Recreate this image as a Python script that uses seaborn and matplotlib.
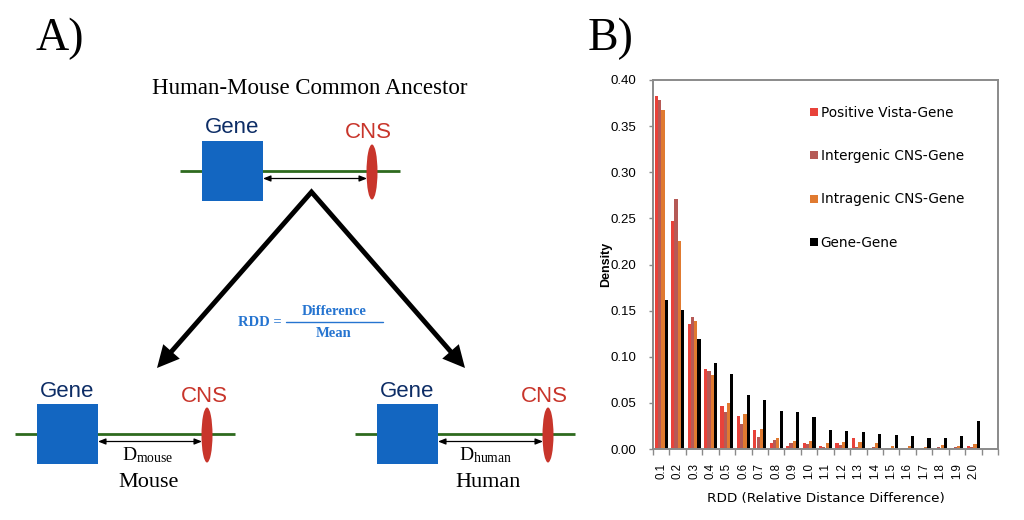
import matplotlib
matplotlib.use("Agg")
import matplotlib.pyplot as plt
import seaborn as sns
import numpy as np
import pandas as pd
from matplotlib.patches import Rectangle, Ellipse, Polygon
from matplotlib.lines import Line2D

# ---------------- data (panel B) ----------------
rdd_labels = ["0.1", "0.2", "0.3", "0.4", "0.5", "0.6", "0.7", "0.8", "0.9", "1.0",
              "1.1", "1.2", "1.3", "1.4", "1.5", "1.6", "1.7", "1.8", "1.9", "2.0"]
series_names = ["Positive Vista-Gene", "Intergenic CNS-Gene", "Intragenic CNS-Gene", "Gene-Gene"]
series_colors = ["#E8423A", "#B65A56", "#E07A30", "#000000"]

positive_vista = [0.383, 0.247, 0.136, 0.087, 0.047, 0.036, 0.021, 0.007, 0.0033, 0.0062,
                  0.0036, 0.0062, 0.0124, 0.0007, 0.0007, 0.0007, 0.0005, 0.0005, 0.0007, 0.0036]
intergenic = [0.378, 0.271, 0.143, 0.085, 0.040, 0.027, 0.013, 0.0095, 0.0062, 0.0058,
              0.0025, 0.0044, 0.0025, 0.0025, 0.0015, 0.0015, 0.0015, 0.0025, 0.0022, 0.0025]
intragenic = [0.368, 0.226, 0.139, 0.080, 0.050, 0.038, 0.022, 0.012, 0.0084, 0.0084,
              0.007, 0.0073, 0.0073, 0.007, 0.0033, 0.0033, 0.0025, 0.0044, 0.0036, 0.0058]
gene_gene = [0.162, 0.151, 0.119, 0.093, 0.081, 0.058, 0.053, 0.041, 0.040, 0.035,
             0.021, 0.020, 0.018, 0.016, 0.015, 0.014, 0.0124, 0.0117, 0.0142, 0.030]
y_ticks = [0.00, 0.05, 0.10, 0.15, 0.20, 0.25, 0.30, 0.35, 0.40]

sns.set_style("white")
plt.rcParams["font.family"] = ["Liberation Sans", "DejaVu Sans"]
plt.rcParams["text.color"] = "black"
plt.rcParams["axes.labelcolor"] = "black"
plt.rcParams["xtick.color"] = "black"
plt.rcParams["ytick.color"] = "black"
plt.rcParams["mathtext.fontset"] = "custom"
plt.rcParams["mathtext.rm"] = "Liberation Serif"
plt.rcParams["mathtext.it"] = "Liberation Serif:italic"

W, H = 1024, 520
fig = plt.figure(figsize=(W / 100, H / 100), dpi=100)
fig.patch.set_facecolor("white")

# ---------------- panel A (diagram, pixel coordinates) ----------------
axA = fig.add_axes([0, 0, 1, 1], zorder=0)
axA.set_xlim(0, W)
axA.set_ylim(H, 0)
axA.axis("off")

SERIF = "Liberation Serif"
SANS = "Liberation Sans"
BLUE_BOX = "#1366C1"
GENE_TXT = "#0D2D66"
CNS_RED = "#C8352B"
GREEN = "#2E6A1E"
FORMULA = "#2574D0"

axA.text(35, 50, "A)", fontsize=33, family=SERIF, ha="left", va="baseline", color="black")
axA.text(588, 50, "B)", fontsize=33, family=SERIF, ha="left", va="baseline", color="black")
axA.text(310, 94.3, "Human-Mouse Common Ancestor", fontsize=16.5, family=SERIF,
         ha="center", va="baseline", color="black")


def locus(ax, line_x, y, box_x, cns_x, gene_base, cns_base, gene_tx, cns_tx):
    ax.plot(line_x, [y, y], color=GREEN, lw=2.0, solid_capstyle="butt", zorder=1)
    ax.add_patch(Rectangle((box_x, y - 30), 61, 60, color=BLUE_BOX, zorder=2, lw=0))
    ax.add_patch(Ellipse((cns_x, y + 1), 11, 55, color=CNS_RED, zorder=3, lw=0))
    ax.annotate("", xy=(cns_x - 5, y + 7.5), xytext=(box_x + 61, y + 7.5),
                arrowprops=dict(arrowstyle="<|-|>,head_length=0.45,head_width=0.18",
                                color="k", lw=0.9, shrinkA=0, shrinkB=0,
                                mutation_scale=10), zorder=2)
    ax.text(gene_tx, gene_base, "Gene", fontsize=16, family=SANS, color=GENE_TXT,
            ha="center", va="baseline")
    ax.text(cns_tx, cns_base, "CNS", fontsize=16, family=SANS, color=CNS_RED,
            ha="center", va="baseline")


locus(axA, [180, 400], 171, 202, 372, 132.7, 138.3, 232, 368)
locus(axA, [15, 235], 434, 37, 207, 396.7, 401.7, 67.5, 204)
locus(axA, [355, 575], 434, 377, 548, 396.7, 401.7, 406.7, 544)

axA.text(147.5, 460, r"$\mathrm{D}_{\mathrm{mouse}}$", fontsize=14, ha="center",
         va="baseline", color="black")
axA.text(486, 460, r"$\mathrm{D}_{\mathrm{human}}$", fontsize=14, ha="center",
         va="baseline", color="black")
axA.text(149, 487.3, "Mouse", fontsize=16, family=SERIF, ha="center", va="baseline",
         color="black")
axA.text(488.5, 487.3, "Human", fontsize=16, family=SERIF, ha="center", va="baseline",
         color="black")

# big branching arrows
apex = np.array([311.5, 192.0])
tips = [np.array([157.0, 368.0]), np.array([465.0, 368.0])]
head_len, head_w = 22.0, 22.0
bases = []
for tip in tips:
    u = (tip - apex) / np.linalg.norm(tip - apex)
    nrm = np.array([-u[1], u[0]])
    base = tip - u * head_len
    bases.append(base + u * 2)
    axA.add_patch(Polygon([tip, base + nrm * head_w / 2, base - nrm * head_w / 2],
                          closed=True, color="k", lw=0, zorder=4))
axA.plot([bases[0][0], apex[0], bases[1][0]], [bases[0][1], apex[1], bases[1][1]],
         color="k", lw=3.5, solid_joinstyle="miter", solid_capstyle="butt", zorder=4)

# formula
axA.text(259.5, 326, "RDD =", fontsize=10.5, family=SERIF, weight="bold", color=FORMULA,
         ha="center", va="baseline")
axA.text(334, 315, "Difference", fontsize=10.5, family=SERIF, weight="bold", color=FORMULA,
         ha="center", va="baseline")
axA.plot([286, 383], [322, 322], color=FORMULA, lw=1.0)
axA.text(334, 336.7, "Mean", fontsize=10.5, family=SERIF, weight="bold", color=FORMULA,
         ha="center", va="baseline")

# ---------------- panel B (bar chart) ----------------
L, R, T, B = 653, 998, 80, 449
axB = fig.add_axes([L / W, (H - B) / H, (R - L) / W, (B - T) / H], zorder=1)
axB.set_facecolor("white")

df = pd.DataFrame({
    "RDD": rdd_labels * 4,
    "Density": positive_vista + intergenic + intragenic + gene_gene,
    "Series": [s for s in series_names for _ in rdd_labels],
})
sns.barplot(data=df, x="RDD", y="Density", hue="Series", order=rdd_labels,
            hue_order=series_names, palette=series_colors, width=0.8, saturation=1,
            linewidth=0, errorbar=None, legend=False, ax=axB)

GRAY = "#8a8a8a"
for sp in axB.spines.values():
    sp.set_visible(True)
    sp.set_color(GRAY)
    sp.set_linewidth(1.4)

axB.set_ylim(0, 0.40)
axB.set_yticks(y_ticks)
axB.set_yticklabels([f"{v:.2f}" for v in y_ticks], fontsize=9.5, family=SANS, color="black")
axB.tick_params(axis="y", which="major", left=True, length=3, width=1, color=GRAY,
                direction="out", pad=9)

axB.set_xlim(-0.5, 20.5)
axB.set_xticks(range(len(rdd_labels)))
axB.set_xticklabels(rdd_labels, rotation=90, fontsize=8.3, family=SANS, color="black")
axB.set_xticks(np.arange(-0.5, 20.6, 1), minor=True)
axB.tick_params(axis="x", which="major", bottom=True, length=0, pad=10)
axB.tick_params(axis="x", which="minor", bottom=True, length=4, width=1, color=GRAY,
                direction="out")

axB.set_xlabel("RDD (Relative Distance Difference)", fontsize=9.7, family="DejaVu Sans",
               color="black")
axB.xaxis.set_label_coords(0.5, -0.117)
axB.set_ylabel("Density", fontsize=9, family=SANS, weight="bold", color="black")
axB.yaxis.set_label_coords(-0.119, 0.5)

handles = [Line2D([], [], marker="s", ls="", color=c, markersize=5.5, markeredgewidth=0)
           for c in series_colors]
axB.legend(handles, series_names, loc="upper left", bbox_to_anchor=(0.452, 0.930),
           frameon=False, prop={"family": "DejaVu Sans", "size": 9.8},
           labelcolor="black", handlelength=0.7, handletextpad=0.15, labelspacing=2.15,
           borderaxespad=0, borderpad=0)

fig.savefig("out.png", dpi=100, facecolor="white")
